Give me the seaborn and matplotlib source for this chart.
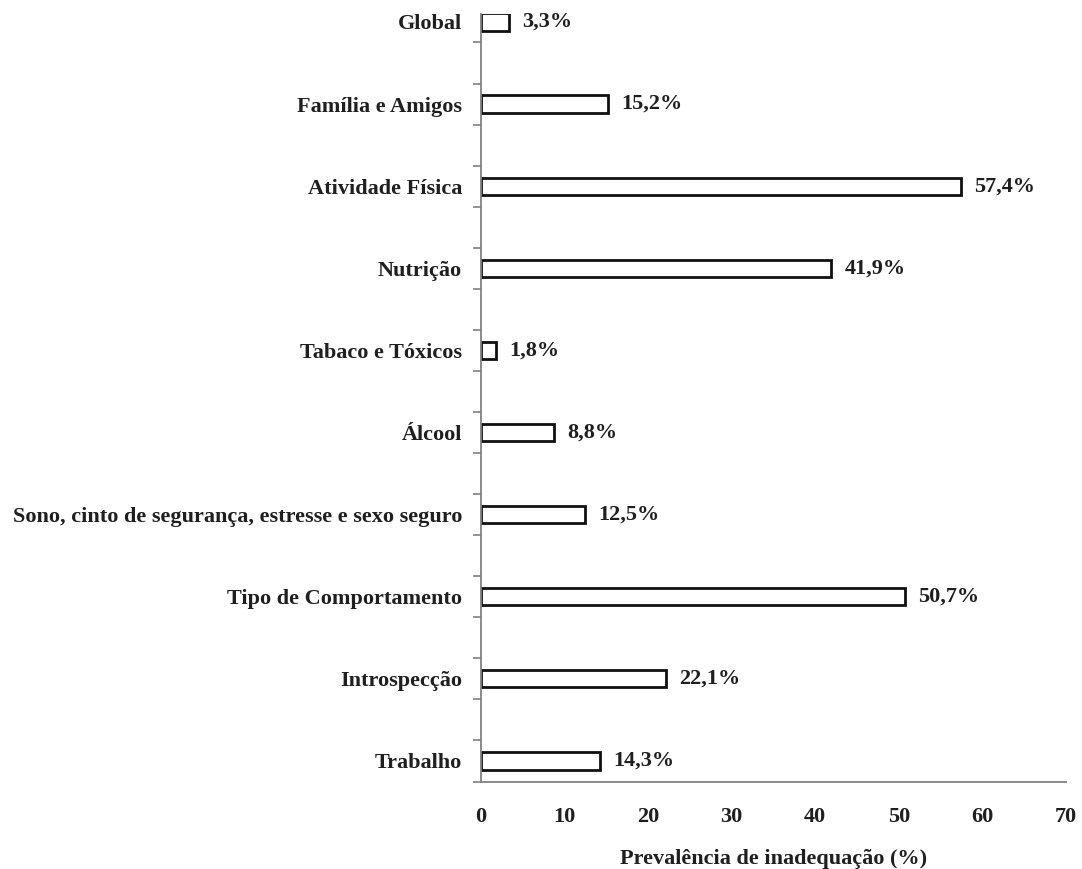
import matplotlib
matplotlib.use("Agg")
import matplotlib.pyplot as plt
import seaborn as sns
import numpy as np
import pandas as pd

categories = ["Global", "Família e Amigos", "Atividade Física", "Nutrição",
              "Tabaco e Tóxicos", "Álcool",
              "Sono, cinto de segurança, estresse e sexo seguro",
              "Tipo de Comportamento", "Introspecção", "Trabalho"]
values = [3.3, 15.2, 57.4, 41.9, 1.8, 8.8, 12.5, 50.7, 22.1, 14.3]
value_labels = ["3,3%", "15,2%", "57,4%", "41,9%", "1,8%", "8,8%",
                "12,5%", "50,7%", "22,1%", "14,3%"]
x_ticks = [0, 10, 20, 30, 40, 50, 60, 70]
x_label = "Prevalência de inadequação (%)"

sns.set_theme(style="white")
plt.rcParams['font.family'] = ['Liberation Serif', 'DejaVu Serif']
plt.rcParams['font.weight'] = 'bold'

txt = "#1f1f1f"
axis_col = "#808080"
fs = 16

fig = plt.figure(figsize=(10.82, 8.69), dpi=100)
ax = fig.add_axes([0.4445, 0.1001, 0.9852 - 0.4445, 0.9839 - 0.1001])

df = pd.DataFrame({"cat": categories, "val": values})
sns.barplot(data=df, y="cat", x="val", orient="h", ax=ax, width=0.21,
            color="white", edgecolor="#111111", linewidth=2.0, saturation=1)

ax.set_xlim(0, 70)
ax.set_ylim(9.256, -0.097)
ax.set_xticks(x_ticks)
ax.set_xticklabels([str(t) for t in x_ticks], fontsize=fs, fontweight='bold', color=txt)
ax.tick_params(axis='x', direction='in', length=6, width=1.2, color=axis_col, pad=18)

ax.set_yticks(range(len(categories)))
ax.set_yticklabels(categories, fontsize=fs, fontweight='bold', color=txt)
ax.tick_params(axis='y', which='major', length=0, pad=13.7)
minor = [i + d for i in range(len(categories)) for d in (-0.25, 0.25) if 0 < i + d <= 9.3]
ax.set_yticks(minor, minor=True)
ax.tick_params(axis='y', which='minor', direction='out', length=6, width=1.2, color=axis_col, left=True)

ax.set_ylabel("")
ax.set_xlabel(x_label, fontsize=fs, fontweight='bold', color=txt, labelpad=16)

for s in ["top", "right"]:
    ax.spines[s].set_visible(False)
for s in ["left", "bottom"]:
    ax.spines[s].set_color(axis_col)
    ax.spines[s].set_linewidth(1.3)

for i, (v, lab) in enumerate(zip(values, value_labels)):
    ax.annotate(lab, xy=(v, i), xytext=(9.5, 0), textcoords="offset points",
                va="center", ha="left", fontsize=fs, fontweight='bold', color=txt)

fig.savefig("out.png", dpi=100, facecolor="white")
